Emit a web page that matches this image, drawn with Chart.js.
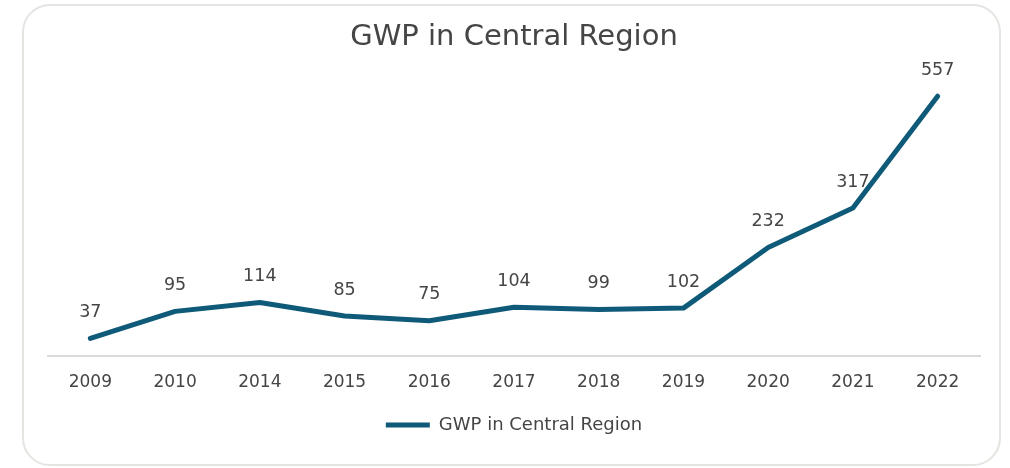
<!DOCTYPE html>
<html>
<head>
<meta charset="utf-8">
<style>
  html, body { margin: 0; padding: 0; background: #ffffff; }
  #wrap { position: relative; width: 1010px; height: 468px; }
  #frame {
    position: absolute; left: 22px; top: 4px; width: 975px; height: 458px;
    border: 2px solid #e4e4e1; border-radius: 28px; box-sizing: content-box;
  }
  #chartGWP { position: absolute; left: 0; top: 0; }
</style>
</head>
<body>
<div id="wrap">
  <div id="frame"></div>
  <canvas id="chartGWP" width="1010" height="468"></canvas>
</div>

<script src="https://cdn.jsdelivr.net/npm/chart.js@4.4.6/dist/chart.umd.min.js"></script>
<script>
  // datos
  const years = ['2009', '2010', '2014', '2015', '2016', '2017', '2018', '2019', '2020', '2021', '2022'];
  const gwpValues = [37, 95, 114, 85, 75, 104, 99, 102, 232, 317, 557];
  const seriesName = 'GWP in Central Region';

  const lineColor = '#0f5a78';
  const textColor = '#454545';
  const fontFam = '"DejaVu Sans", "Open Sans", sans-serif';

  Chart.defaults.font.family = fontFam;
  Chart.defaults.color = textColor;

  // etiquetas encima de cada punto
  const valueLabels = {
    id: 'valueLabels',
    afterDatasetsDraw(chart) {
      const ctx = chart.ctx;
      const meta = chart.getDatasetMeta(0);
      ctx.save();
      ctx.font = '17.5px ' + fontFam;
      ctx.fillStyle = textColor;
      ctx.textAlign = 'center';
      ctx.textBaseline = 'middle';
      meta.data.forEach(function(pt, i) {
        ctx.fillText(String(gwpValues[i]), pt.x, pt.y - 26);
      });
      ctx.restore();
    }
  };

  const chart = new Chart(document.getElementById('chartGWP'), {
    type: 'line',
    data: {
      labels: years,
      datasets: [{
        label: seriesName,
        data: gwpValues,
        borderColor: lineColor,
        backgroundColor: lineColor,
        borderWidth: 5,
        borderCapStyle: 'round',
        borderJoinStyle: 'round',
        pointRadius: 0,
        pointHoverRadius: 0,
        tension: 0
      }]
    },
    options: {
      responsive: false,
      animation: false,
      layout: { padding: { left: 48, right: 30, top: 20, bottom: 24 } },
      scales: {
        x: {
          offset: true,
          grid: { display: false },
          border: { display: true, color: '#d9d9d9', width: 2 },
          ticks: { padding: 9, color: textColor, font: { size: 17 } }
        },
        y: {
          display: false,
          min: 0,
          max: 600
        }
      },
      plugins: {
        title: {
          display: true,
          text: seriesName,
          color: textColor,
          font: { size: 29, weight: 'normal' },
          padding: { top: 0, bottom: 21.4 }
        },
        legend: {
          position: 'bottom',
          labels: {
            usePointStyle: true,
            pointStyle: 'line',
            pointStyleWidth: 44,
            padding: 14,
            color: textColor,
            font: { size: 18 }
          }
        },
        tooltip: { enabled: false }
      }
    },
    plugins: [valueLabels]
  });
</script>
</body>
</html>
